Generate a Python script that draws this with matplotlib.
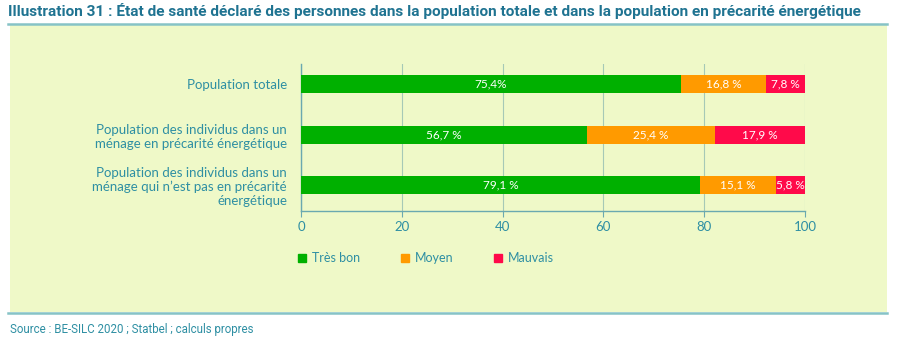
import matplotlib as mpl
import matplotlib.pyplot as plt
from matplotlib.patches import Rectangle
from matplotlib.lines import Line2D

# data
categories = [
    "Population totale",
    "Population des individus dans un\nménage en précarité énergétique",
    "Population des individus dans un\nménage qui n\u2019est pas en précarité\nénergétique",
]
series_names = ["Très bon", "Moyen", "Mauvais"]
tres_bon = [75.4, 56.7, 79.1]
moyen = [16.8, 25.4, 15.1]
mauvais = [7.8, 17.9, 5.8]
labels_tres_bon = ["75,4%", "56,7 %", "79,1 %"]
labels_moyen = ["16,8 %", "25,4 %", "15,1 %"]
labels_mauvais = ["7,8 %", "17,9 %", "5,8 %"]
xticks = [0, 20, 40, 60, 80, 100]

COLORS = ["#00b000", "#ff9a00", "#ff0a4a"]
TEAL = "#2e8fa3"
PANEL = "#eff9c8"

mpl.rcParams["font.family"] = ["Lato", "DejaVu Sans"]

W, H = 900, 341
fig = plt.figure(figsize=(9, 3.41), dpi=100)
fig.patch.set_facecolor("white")

# light green panel + rules
fig.add_artist(Rectangle((10 / W, 1 - 312 / H), 877 / W, 288 / H,
                         transform=fig.transFigure, facecolor=PANEL,
                         edgecolor="none", zorder=0))
for yy in (24, 313):
    fig.add_artist(Line2D([8 / W, 887 / W], [1 - yy / H, 1 - yy / H],
                          transform=fig.transFigure, color="#86c3c6", lw=1.8))

fig.text(8 / W, 1 - 11 / H,
         "Illustration 31 : État de santé déclaré des personnes dans la population totale et dans la population en précarité énergétique",
         fontsize=11.1, fontweight="bold", color="#1f7391", va="center", ha="left",
         family=["Roboto", "DejaVu Sans"])
fig.text(10 / W, 1 - 330 / H, "Source : BE-SILC 2020 ; Statbel ; calculs propres",
         fontsize=8.3, color=TEAL, va="center", ha="left",
         family=["Roboto", "DejaVu Sans"])

ax = fig.add_axes([301 / W, 1 - 211 / H, 504 / W, 147 / H])
ax.set_facecolor("none")

y = list(range(len(categories)))
h = 0.36
lefts = [0, 0, 0]
for vals, labs, col in [(tres_bon, labels_tres_bon, COLORS[0]),
                        (moyen, labels_moyen, COLORS[1]),
                        (mauvais, labels_mauvais, COLORS[2])]:
    bars = ax.barh(y, vals, height=h, left=lefts, color=col, zorder=3)
    for b, lab in zip(bars, labs):
        ax.text(b.get_x() + b.get_width() / 2, b.get_y() + b.get_height() / 2, lab,
                ha="center", va="center", color="white", fontsize=8.5, zorder=4)
    lefts = [l + v for l, v in zip(lefts, vals)]

ax.set_xlim(0, 100)
ax.set_ylim(2.51, -0.4)
ax.set_xticks(xticks)
ax.set_yticks(y)
ax.set_yticklabels(categories, color=TEAL, fontsize=9.5)
ax.tick_params(axis="y", length=0, pad=10)
ax.tick_params(axis="x", colors="#6aa9b0", labelcolor=TEAL, labelsize=9.5, length=4, pad=3)
ax.grid(axis="x", color="#a6c9b6", lw=0.8, zorder=1)
for s in ("top", "right"):
    ax.spines[s].set_visible(False)
for s in ("left", "bottom"):
    ax.spines[s].set_color("#6aa9b0")
    ax.spines[s].set_linewidth(1.0)

handles = [Line2D([], [], marker="s", linestyle="none", markersize=6,
                  markerfacecolor=c, markeredgecolor=c) for c in COLORS]
fig.legend(handles, series_names, loc="center left",
           bbox_to_anchor=(284 / W, 1 - 258 / H), ncol=3, frameon=False,
           fontsize=9, labelcolor=TEAL, columnspacing=3.1, handletextpad=0.3,
           handlelength=1.0)

fig.savefig("out.png", dpi=100)
